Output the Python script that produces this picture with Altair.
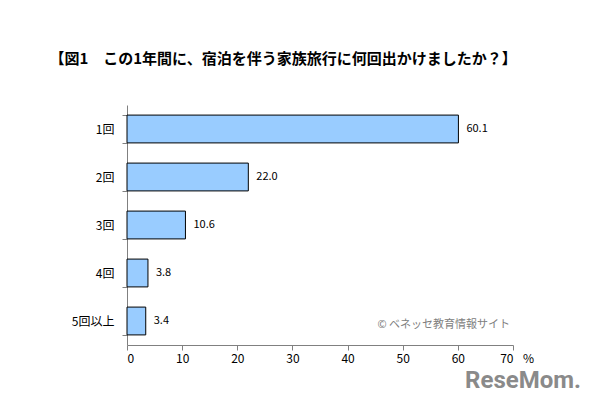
import altair as alt
import pandas as pd

categories = ["1回", "2回", "3回", "4回", "5回以上"]
values = [60.1, 22.0, 10.6, 3.8, 3.4]
x_ticks = [0, 10, 20, 30, 40, 50, 60, 70]
title_text = "【図1　この1年間に、宿泊を伴う家族旅行に何回出かけましたか？】"
credit_text = "© ベネッセ教育情報サイト"
logo_text = "ReseMom."

df = pd.DataFrame({"cat": categories, "val": values})

W, H = 386, 240
FONT = "Noto Sans CJK JP"

x_scale = alt.Scale(domain=[0, 70], nice=False)
y_scale = alt.Scale(domain=categories, paddingInner=0.42, paddingOuter=0.21)

bars = alt.Chart(df).mark_bar(color="#99CCFF", stroke="#000000", strokeWidth=1).encode(
    x=alt.X("val:Q", scale=x_scale, axis=alt.Axis(
        values=x_ticks, title=None, grid=False, domainColor="#808080", tickColor="#808080",
        tickSize=5, labelFont=FONT, labelFontSize=12, labelColor="#000000", labelPadding=3)),
    y=alt.Y("cat:N", sort=categories, scale=y_scale, axis=alt.Axis(
        title=None, grid=False, domainColor="#808080", tickColor="#808080", tickSize=5,
        tickBand="extent", labelFont=FONT, labelFontSize=12, labelColor="#000000",
        labelPadding=8)),
)

labels = alt.Chart(df).mark_text(align="left", baseline="middle", dx=8, font=FONT,
                                 fontSize=11, color="#000000").encode(
    x=alt.X("val:Q", scale=x_scale),
    y=alt.Y("cat:N", sort=categories, scale=y_scale),
    text=alt.Text("val:Q", format=".1f"),
)

credit = alt.Chart(pd.DataFrame({"t": [credit_text], "x": [70], "c": ["5回以上"]})).mark_text(
    align="right", baseline="middle", dx=-3, dy=4, font=FONT, fontSize=11, color="#808080"
).encode(x=alt.X("x:Q", scale=x_scale), y=alt.Y("c:N", sort=categories, scale=y_scale), text="t:N")

pct = alt.Chart(pd.DataFrame({"t": ["%"], "x": [70]})).mark_text(
    align="left", baseline="middle", dx=10, font=FONT, fontSize=12, color="#000000"
).encode(x=alt.X("x:Q", scale=x_scale), y=alt.value(H + 14), text="t:N")

logo = alt.Chart(pd.DataFrame({"t": [logo_text]})).mark_text(
    align="right", baseline="middle", font="Roboto", fontSize=24, fontWeight="bold",
    color="#8a8a8a"
).encode(x=alt.value(W + 68), y=alt.value(H + 36), text="t:N")

chart = alt.layer(bars, labels, credit, pct, logo).properties(
    width=W, height=H,
    title=alt.TitleParams(text=title_text, font=FONT, fontSize=15, fontWeight="bold",
                          color="#000000", anchor="middle", frame="group", dx=-37, offset=32),
    autosize=alt.AutoSizeParams(type="none"),
    padding={"left": 119, "top": 97, "right": 79, "bottom": 54},
).configure_view(stroke=None)

chart.save("out.html", embed_options={"renderer": "svg", "actions": False})
